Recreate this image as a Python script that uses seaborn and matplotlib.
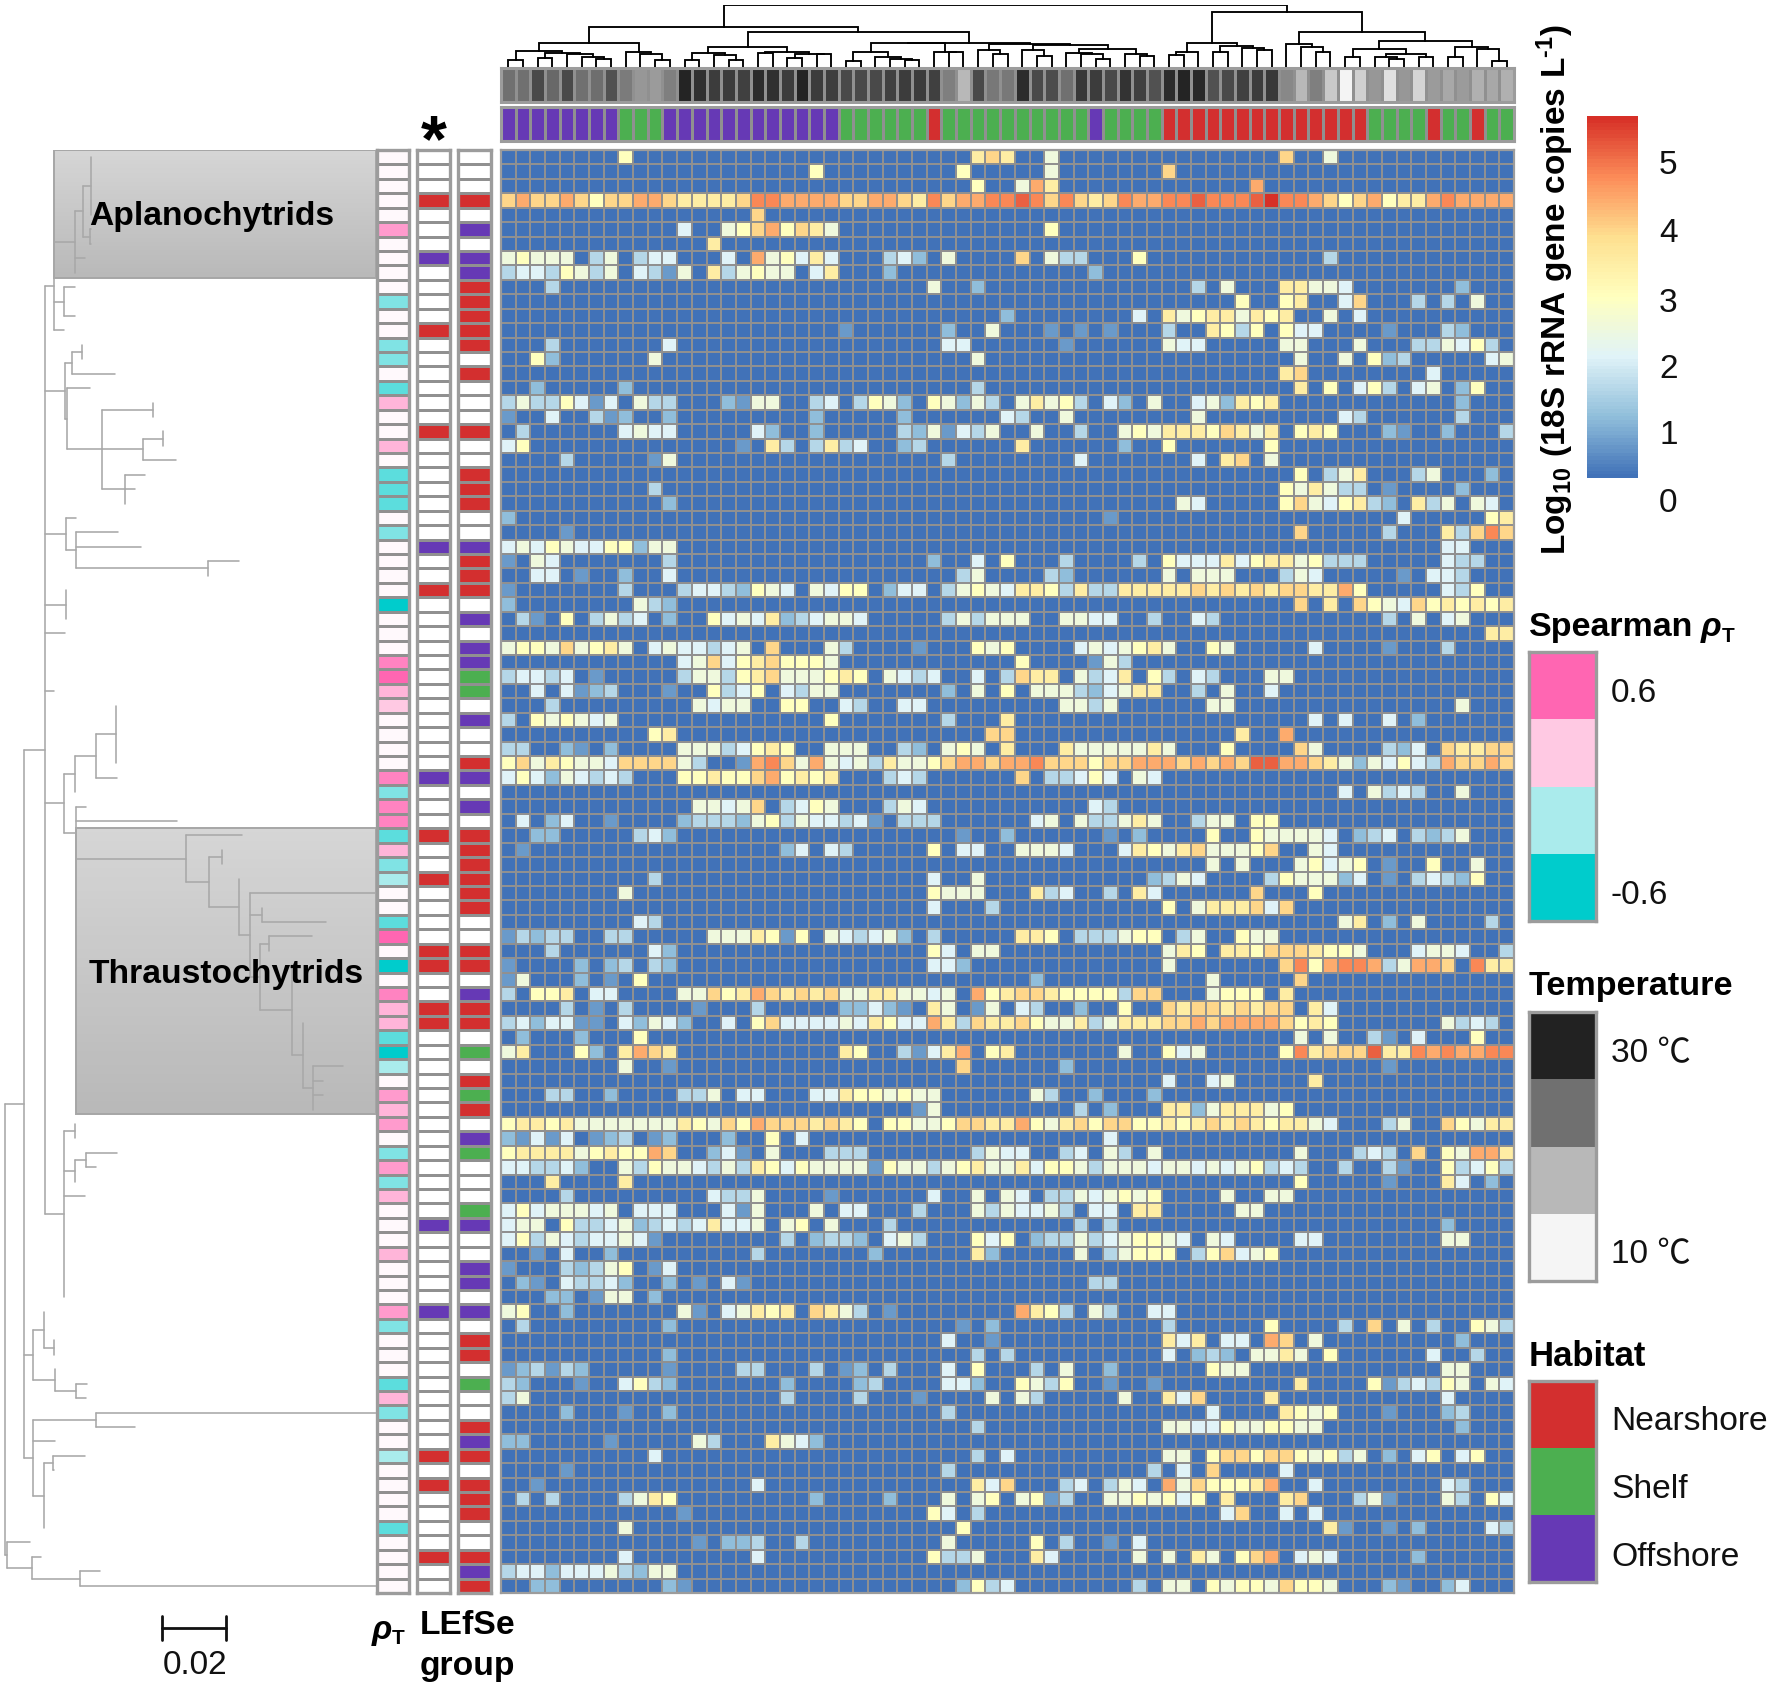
import numpy as np
import pandas as pd
import seaborn as sns
import matplotlib
matplotlib.use("Agg")
import matplotlib.pyplot as plt
from matplotlib.colors import LinearSegmentedColormap, ListedColormap
from matplotlib.patches import Rectangle

# ---------- abundance levels (one character per cell; missing trailing cells are 0) ----------
level_values = {'0': 0.0, '1': 0.5, '2': 0.95, '3': 1.4, '4': 1.9, '5': 2.35, '6': 2.85,
                '7': 3.4, '8': 3.9, '9': 4.4, 'a': 4.8, 'b': 5.2, 'c': 5.7}

rows_a = [
"00000 00060 00000 00000 00000 00000 00787 00500 00000 00000 00080 05000",
"00000 00000 00000 00000 06000 00000 06000 00500 00000 80000",
"00000 00000 00000 00000 00000 00000 00600 59700 00000 00000 09000",
"89889 86889 98777 78aa9 99988 9987a 899aa ba8a8 78a99 aabaa abcaa 98689 6779a 9999",
"00000 00000 00000 00800",
"00000 00000 00400 56896 87500 00000 00000 00600",
"00000 00000 00007",
"56555 03503 44000 40956 47400 03420 50000 80533 00060 00000 00000 03000",
"34436 53504 31507 35655 04700 02000 00000 00000 20000",
"00030 00000 00000 00000 00000 00005 00200 00000 00000 00305 00077 55400 00000 2000",
"00000 00000 00000 00000 00000 00000 00000 00000 00000 00000 60067 00480 00303 0500",
"00000 00000 00000 00000 00000 00000 00002 00000 00040 75677 57670 05040",
"00000 00000 00000 00000 00010 00000 20050 00101 01000 30076 36064 40000 10003 2000",
"00030 00000 04000 00000 00000 00000 44000 00010 00000 54400 00055 00050 00335 4630",
"00620 00000 50000 00000 00000 00000 00500 00000 00000 00000 00005 00506 23000 0045",
"00000 00000 00000 00000 00000 00000 00000 00000 00000 00000 00078 00000 00040",
"00200 00020 00000 00000 00000 00000 00300 00000 00000 00000 00007 06046 30450 2600",
"35336 41405 33000 21550 03403 65206 52530 57563 04205 00452 76700 00000 00000 2000",
"10040 03120 02000 00000 02000 00200 00004 30050 00000 00500 00000 00430 00000 3000",
"03000 00045 44000 00420 02000 00325 14350 05003 00565 77768 75706 76000 21002 0003",
"46000 00000 00000 01073 03734 00230 00000 70000 00200 60000 00600",
"00003 00000 15000 00000 00000 00000 30000 00004 00000 00407 80500",
"00000 00000 00000 00000 00000 00000 00000 00000 00000 00000 00006 03570 00350 0020",
"00000 00000 30000 00000 00000 00000 00000 00000 00000 00000 00065 75330 10000 2000",
"00000 00000 02000 00000 00000 00000 00000 00000 00000 05400 00068 54673 20735 0540",
]
rows_b = [
"20000 00000 00000 00000 00000 00000 00000 00000 01000 00000 00000 00000 04000 0067",
"00001 00000 00000 00000 00000 00000 00000 00000 00000 00000 00008 00000 30007 38a8",
"45465 44662 55000 00000 00000 00000 00000 00000 00000 00000 00000 00000 00004 4000",
"10540 00000 03000 00000 00000 00002 00406 00030 00030 64447 46775 63330 00004 3300",
"00440 10020 04000 00000 00000 00000 03500 00320 00000 50555 00035 40000 01044 3000",
"10000 00030 00344 32654 05466 02440 35654 77637 33777 77878 78788 77960 00004 3600",
"20000 00005 32000 00000 00000 00000 00000 00000 00000 00000 00008 07086 54867 6767",
"03106 03534 02006 45472 34554 00000 35355 50055 44003 00430 00000 00000 30504 5000",
"00000 00000 00000 00000 00000 00000 00000 00000 00000 00000 00000 00000 00000 0077",
"56658 56750 45443 45080 00530 00010 00656 00004 54567 50065 00000 40000 10003",
"00000 00000 00458 46786 66500 00000 00000 60000 15300",
"34434 01000 00355 36785 55676 05434 00403 87705 34706 30430 00550",
"00404 12300 01006 34604 35500 00000 20506 05553 24577 00305 00400",
"00030 00000 00054 55006 60043 00440 00000 00055 35000 00055 00000 00000 00000 5000",
"30656 54500 00000 00000 00600 00000 30007 00000 00000 00000 00000 40400 40200",
"00000 00000 67000 00000 00000 00000 00088 00000 00000 00000 70090",
"33002 10200 00555 34676 00555 00320 56507 00075 55557 50006 00008 50000 32408 7788",
"68576 55488 88530 019a8 59545 37556 89989 9a888 68899 98989 8bb99 87525 46439 8898",
"46425 43430 00667 66896 76700 03430 00000 80334 64054",
"00000 00000 00000 00000 00000 00000 00000 00000 00000 00000 00000 00405 34300 5000",
"00000 00000 00055 45803 46500 03540 00000 00000 43000",
"04024 00100 00233 32563 54434 10333 00000 04505 33575 00355 06600",
"00220 00003 42000 00000 00000 00000 01002 00000 01020 00060 06555 54023 40323 5000",
"01000 00000 00000 00002 40430 00006 04400 55540 00476 57855 56800 54000",
"00000 00000 00000 00000 00000 00000 00000 00000 00000 00050 50005 64560 10060 0500",
]
rows_c = [
"00000 00000 30000 00000 00000 00004 00500 00000 00002 35400 00365 55240 10343 2600",
"00000 00050 00000 00000 00000 00006 55500 07340 03074 00000 08000 60000",
"00000 00000 00000 00000 00000 00004 00030 00000 00000 60577 78480",
"00000 00004 30000 00000 00000 00000 00000 00000 00000 00000 00000 00570 20500 0030",
"13233 00330 00005 55761 60543 45203 00000 77603 33566 03500 65500",
"00030 00000 42000 00000 00000 00006 40550 00000 00000 57607 76888 76650 00455 4003",
"10000 20230 32000 00000 00000 00004 42000 00000 00000 50000 0008a 69aa9 35998 0a77",
"15000 20106 00000 00000 00000 00000 00000 02000 00000 00050 00008",
"30667 04400 00558 67987 87855 77554 50967 88766 66388 00056 66070",
"00003 01030 00010 00300 00022 42107 50150 43002 00600 87887 87880 74000",
"34244 11042 54200 40684 44454 76449 73877 86557 35777 88989 99986 76000 00005 3430",
"02000 20006 00000 00000 00000 00000 00000 00000 00000 00000 00005 05003 10400 0600",
"57000 62079 87000 00000 00076 00314 79067 00000 00500 64500 0006a 7888b 77a9a 99aa",
"00000 00050 01000 00000 00000 00000 08000 00020 00000 00000 00000 00000 10000",
"00000 00000 00000 00000 00000 00000 00000 00000 00000 40045 00000 70000",
"00033 00200 00335 04400 04476 65655 00000 05300 20002",
"00000 00000 00000 00000 00000 00015 00000 00003 02000 77257 77560",
"67767 55555 55765 86988 87876 06655 68877 96578 68866 76787 87677 54000 35008 6577",
"21414 01230 12000 20060 40000 00000 00000 00000 04000",
"67777 56766 98002 41050 00333 00000 00354 40034 05305 00000 00005 00034 30806 5997",
"44334 20053 65543 53764 65555 16553 56755 74665 35554 55454 56343 00300 31006 3463",
"00070 00070 00000 00000 00000 00000 00000 00000 00000 00000 00006 00000 10007 4020",
"00003 00000 00004 33500 00100 00004 00505 40335 45656 00005 00550",
"46455 54504 44000 41500 05044 00030 00535 44530 44077 00000 55000",
"45506 33452 34347 44505 60500 03000 00000 00003 03000 00000 00000 00000 00002",
]
rows_d = [
"46354 34454 10000 00003 02332 04530 00646 02335 34566 54054 00004 40000 00005 5000",
"00104 00200 00000 00300 00000 20000 00720 00005 03566 60368 45600",
"10003 23560 14000",
"02104 33420 02010 41000 00000 00000 00000 00000 33000",
"00022 01550 20000",
"56002 00000 00510 45767 08753 01000 00000 97630 53004 40000",
"03000 00000 02000 00000 00000 00000 01020 00000 00000 30000 00600 00308 05030 0653",
"00000 00000 00000 00000 00000 00000 40010 00000 00000 74704 40980 50000 00000 2000",
"00000 00000 02000 00000 00000 00000 00303 00000 00000 40232 05575 06000 00040 0300",
"12313 20000 01000 03300 03012 03000 40600 03050 02000 00065 50000 00000 00005 5000",
"32000 10046 32000 00002 00002 30000 44200 65360 01001 00000 00007 00006 13436 5054",
"35000 00000 00000 00003 00003 00010 00050 53000 00500 74800 00700 00000 00004",
"00002 00010 02000 00000 00000 00000 30000 00000 00000 00040 00076 56000 10002 3000",
"00000 00000 00000 00000 00000 00000 00300 00000 00000 55446 55665 50000 00000 2000",
"22000 00100 00053 00075 42000",
"00000 00000 40000 00000 00000 00000 00304 00000 00000 55068 86886 56350 20460 4600",
"00001 00000 00000 00000 00000 00000 30000 00000 00003 04080 00040",
"00100 00000 00000 00400 00000 00000 00748 00034 03540 95866 67900 40000 00004 3000",
"03030 00035 76000 00000 02000 02000 50560 56130 05565 64607 00078 00035 10005 3064",
"00000 00000 00100 00000 00000 00006 40300 00000 00000 00004 80040 40000",
"00000 00050 00000 00000 00000 00000 06000 00000 00000 00000 00000 07100 10200 0043",
"00000 00000 00010 22300 30000 00000 50000 06030 01040",
"00000 00040 00000 00400 00000 00006 33500 07400 00050 50750 68904 54000 00200",
"34424 44532 55000",
"00220 00000 02100 00000 00000 00000 02634 00000 00030 55065 66586 65000 21002 4000",
]

# ---------- column annotations ----------
temperature = [23.3, 23.3, 26.7, 24.0, 26.7, 23.3, 23.5, 26.0, 22.3, 19.7, 19.3, 21.9,
               29.8, 28.8, 27.8, 27.8, 27.4, 29.1, 28.8, 27.8, 29.8, 27.8, 27.6, 26.7,
               26.7, 26.7, 27.4, 27.8, 27.8, 27.4, 21.9, 16.7, 26.7, 22.6, 22.6, 29.1,
               26.7, 26.4, 23.3, 28.1, 27.8, 26.7, 28.5, 27.4, 26.0, 29.1, 29.8, 29.5,
               26.0, 26.7, 27.4, 27.8, 28.1, 21.1, 16.7, 21.9, 14.9, 10.1, 14.0, 19.7,
               12.3, 19.7, 13.6, 19.3, 18.2, 19.3, 17.4, 18.2, 17.4]
habitat = "PPPPPPPP GGG PPPPPPPPPPPP GGGGGG R GGGGGGGGGG P GGGG RRRRRRRRRRRRRR GGGG R GG R GG"

# ---------- row annotations ----------
rho_codes = (".....p.... d..dd.cq.. q.ccc.d... .C...oPqr. ...odoocqd "
             "e..cP.C.oq qcCe.pqp.d pdq...q... pd...cqd.. e....c....")
rho_values = {'.': 0.0, 'P': 0.6, 'o': 0.48, 'p': 0.38, 'q': 0.28, 'r': 0.2,
              'e': -0.2, 'd': -0.3, 'c': -0.38, 'C': -0.6}
lefse_group = ("...R...P.. ..R......R .......P.. R......... ...P...R.. "
               "R....RR..R R......... ....P..... P......... R.R....R..")
abundance_group = ("...R.P.PPR RRRR.R...R ..RRR..PRR R.P.PPGG.P ..RP.P.RRR "
                   "RRR..RR.PR R.G.RGR.PG ...GP..PP. P.RR.G..RP R.RRR..RPR")
group_index = {'.': 0, 'R': 1, 'G': 2, 'P': 3}

# ---------- trees ----------
L = 1
col_tree = (183,
  (120,
    (70,
      (47, (22, L, L), (42, (28, L, L), (38, L, (30, L, (24, L, L))))),
      (45, L, (40, L, (22, L, L)))),
    (105,
      (60,
        (42, (22, L, L), (35, L, (22, L, L))),
        (45, (42, L, L), (40, (28, L, L), (38, L, L)))),
      (70,
        (70,
          (45, (17, L, L), (30, L, (25, L, (20, L, L)))),
          (45, L, (45, L, L))),
        (68, (50, L, (38, L, L)),
          (66, (50, L, (32, L, L)),
            (52, (42, L, (38, L, (25, L, L))), (38, L, (32, L, L)))))))),
  (163,
    (70,
      (45, (35, L, L), L),
      (62, (45, L, L), (55, L, (50, L, L)))),
    (105,
      (68, L, (60, L, (45, L, L))),
      (78,
        (52, (30, L, L), (40, (30, L, (25, L, L)), (30, L, L))),
        (60, (30, L, L), (53, L, (17, L, L)))))))

aplano = (163, [(225, [(250, [(272, [272, 272, 272, 272, 272]), (270, [272, 272])]), 255, 225]),
                (193, [225, 193, 225]), 193])
clade_a = (195, [(215, [(245, [245, 245]), 345]),
                 (200, [270, (305, [(460, [460, 460]), (430, [(490, [490, 490]), 528]),
                                    (375, [435, 405, 375])])])])
clade_b = (197, [228, (228, [355, 423, (625, [717, 625])])])
clade_c = (197, [197, 197, 197])
thraust = (558, [727, (627, [(665, [665, 665]),
           (717, [717, (750, [1128, (785, [785, 978]),
            (780, [(808, [935, 808]),
                   (877, [877, 877, 877, 877,
                          (908, [908, 908, 908, (938, [1030, 968, 968, 938])])])])])])])])
clade_d = (192, [(225, [(287, [(347, [347, 347, 347, 347, 347]), 350]), 225]),
                 (228, [257, 532, thraust])])
clade_e = (192, [(225, [225, 225]), (225, [(257, [350, 287]), 225]), 255,
                 192, 192, 192, 192, 192, 192, 192])
node_1a = (135, [aplano, clade_a, clade_b, clade_c, 195, 135, 135, 135, 163, clade_d, clade_e])
node_1b = (100, [(133, [133, 133, (162, [162, 162])]), (165, [165, (228, [260, 258])])])
node_1c = (100, [(288, [1128, 405]), 165, (133, [(160, [255, 162]), 133, 133, 133, 133])])
row_tree = (16, [(72, [node_1a, node_1b, node_1c]), (22, [90, (95, [122, (240, [300, 1128])])])])
units_per_002 = 193   # tree units in one 0.02 of branch length

# ---------- legends ----------
cbar_ticks = ['5', '4', '3', '2', '1', '0']
rho_legend = [0.6, 0.2, -0.2, -0.6]
temp_legend = [30, 23.3, 16.7, 10]
habitat_labels = ['Nearshore', 'Shelf', 'Offshore']

# ---------- styling ----------
W, H = 1772, 1687
GRID = '#909090'
FRAME = '#9c9c9c'
sns.set_theme(style='white')
plt.rcParams['font.family'] = ['Liberation Sans', 'Noto Sans CJK SC', 'DejaVu Sans']
plt.rcParams['mathtext.fontset'] = 'custom'
plt.rcParams['mathtext.rm'] = 'Liberation Sans:bold'
plt.rcParams['mathtext.bf'] = 'Liberation Sans:bold'
plt.rcParams['mathtext.it'] = 'Liberation Sans:bold:italic'

heat_cmap = LinearSegmentedColormap.from_list(
    'heat', ['#4172b8', '#91bfdb', '#e0f3f8', '#ffffbf', '#fee090', '#fc8d59', '#d73027'], N=256)
rho_cmap = LinearSegmentedColormap.from_list('rho', ['#00cccc', '#fffafc', '#ff66b2'])
temp_cmap = LinearSegmentedColormap.from_list('temp', ['#f5f5f5', '#b8b8b8', '#707070', '#222222'])
group_cmap = ListedColormap(['#ffffff', '#d32f2f', '#4caf50', '#6639b5'])

fig = plt.figure(figsize=(W / 100, H / 100), dpi=100)


def px_axes(x0, y0, x1, y1):
    return fig.add_axes([x0 / W, 1 - y1 / H, (x1 - x0) / W, (y1 - y0) / H])


def text(x, y, s, **kw):
    kw.setdefault('color', '#111111')
    return fig.text(x / W, 1 - y / H, s, **kw)


def frame(ax, lw=2.0, color=FRAME):
    for sp in ax.spines.values():
        sp.set_visible(True)
        sp.set_linewidth(lw)
        sp.set_color(color)
    ax.set_xticks([])
    ax.set_yticks([])
    ax.set_xlabel('')
    ax.set_ylabel('')


def draw(data, box, cmap, vmin, vmax, lw=1.05, border=2.0):
    ax = px_axes(*box)
    sns.heatmap(pd.DataFrame(data), ax=ax, cmap=cmap, vmin=vmin, vmax=vmax, cbar=False,
                linewidths=lw, linecolor=GRID, xticklabels=False, yticklabels=False)
    frame(ax, border)
    return ax


# ---------- main heat map ----------
matrix = []
for row in rows_a + rows_b + rows_c + rows_d:
    cells = row.replace(' ', '').ljust(69, '0')[:69]
    matrix.append([level_values[c] for c in cells])
matrix = np.array(matrix)
HX0, HX1, HY0, HY1 = 501, 1514, 150, 1593
draw(matrix, (HX0, HY0, HX1, HY1), heat_cmap, 0, 5.7, lw=1.25, border=1.6)

# ---------- column strips ----------
draw(np.array(temperature)[None, :], (HX0, 68, HX1, 102), temp_cmap, 10, 30, lw=1.05, border=2.2)
hab = habitat.replace(' ', '')
draw(np.array([[group_index[c] for c in hab]]), (HX0, 107, HX1, 141), group_cmap, 0, 3, lw=1.05, border=2.2)

# ---------- row strips ----------
rho = np.array([[rho_values[c]] for c in rho_codes.replace(' ', '')])
lef = np.array([[group_index[c]] for c in lefse_group.replace(' ', '')])
grp = np.array([[group_index[c]] for c in abundance_group.replace(' ', '')])
draw(rho, (377, HY0, 409, HY1), rho_cmap, -0.6, 0.6, border=2.4)
draw(lef, (417, HY0, 450, HY1), group_cmap, 0, 3, border=2.4)
draw(grp, (458, HY0, 491, HY1), group_cmap, 0, 3, border=2.4)

# ---------- column dendrogram ----------
ax = px_axes(HX0, 5, HX1, 67)
ax.set_xlim(0, 69)
ax.set_ylim(0, 184)
ax.axis('off')
next_leaf = [0]


def draw_col(node):
    if node == L:
        next_leaf[0] += 1
        return next_leaf[0] - 0.5, 0
    h, a, b = node
    xa, ha = draw_col(a)
    xb, hb = draw_col(b)
    ax.plot([xa, xa, xb, xb], [ha, h, h, hb], color='black', lw=1.35, solid_capstyle='projecting',
            solid_joinstyle='miter')
    return (xa + xb) / 2, h


draw_col(col_tree)

# ---------- row tree with shaded clades ----------
tree_ax = px_axes(0, HY0, 376, HY1)
tree_ax.set_facecolor('none')
tree_ax.axis('off')
shade = LinearSegmentedColormap.from_list('shade', ['#d6d6d6', '#b9b9b9'])
for x0, r0, r1 in [(163, 0, 8.85), (228, 47, 66.8)]:
    tree_ax.imshow(np.linspace(0, 1, 64)[:, None], extent=(x0, 1128, r1, r0), aspect='auto',
                   cmap=shade, zorder=0)
    tree_ax.add_patch(Rectangle((x0, r0), 1128 - x0, r1 - r0, fill=False, ec='#a6a6a6', lw=1.4, zorder=1))
tree_ax.set_xlim(0, 1128)
tree_ax.set_ylim(100, 0)
next_row = [0]


def draw_row(node, parent):
    if not isinstance(node, tuple):
        y = next_row[0] + 0.5
        next_row[0] += 1
        tree_ax.plot([parent, node], [y, y], color='#a8a8a8', lw=1.15, zorder=2)
        return y
    depth, kids = node
    ys = [draw_row(k, depth) for k in kids]
    tree_ax.plot([depth, depth], [ys[0], ys[-1]], color='#a8a8a8', lw=1.15, zorder=2)
    y = (ys[0] + ys[-1]) / 2
    tree_ax.plot([parent, depth], [y, y], color='#a8a8a8', lw=1.15, zorder=2)
    return y


draw_row(row_tree, 14)

# scale bar
bar_x0 = 485
bar_y = (1628 - HY0) / (HY1 - HY0) * 100
bar_h = 0.8
tree_ax.plot([bar_x0, bar_x0 + units_per_002], [bar_y, bar_y], color='#111111', lw=2.0, clip_on=False)
for xb in (bar_x0, bar_x0 + units_per_002):
    tree_ax.plot([xb, xb], [bar_y - bar_h, bar_y + bar_h], color='#111111', lw=2.0, clip_on=False)

text(195, 1666, '0.02', fontsize=24, ha='center', va='center')
text(89, 217, 'Aplanochytrids', fontsize=24.2, fontweight='bold', va='center', color='black')
text(89, 975, 'Thraustochytrids', fontsize=24.2, fontweight='bold', va='center', color='black')

# ---------- labels under / above strips ----------
text(434, 161, '*', fontsize=48, fontweight='bold', ha='center', va='baseline', color='black')
text(372, 1639, 'ρ', fontsize=24, fontweight='bold', fontstyle='italic', va='baseline', color='black')
text(392, 1644, 'T', fontsize=15, fontweight='bold', va='baseline', color='black')
text(420, 1626, 'LEfSe', fontsize=24.2, fontweight='bold', va='center', color='black')
text(420, 1667, 'group', fontsize=24.2, fontweight='bold', va='center', color='black')

# ---------- colour bar ----------
cb = px_axes(1587, 116, 1638, 478)
sns.heatmap(pd.DataFrame(np.linspace(5.7, 0, 100)[:, None]), ax=cb, cmap=heat_cmap, vmin=0, vmax=5.7,
            cbar=False, xticklabels=False, yticklabels=False)
cb.set_xlabel('')
cb.set_ylabel('')
for lab, yy in zip(cbar_ticks, [166, 234, 303, 369, 436, 503]):
    text(1659, yy, lab, fontsize=24, va='center')
text(1555, 290, '$\\mathbf{Log_{10}\\ (18S\\ rRNA\\ gene\\ copies\\ L^{\u20101})}$', fontsize=24,
     rotation=90, ha='center', va='center', color='black')

# ---------- discrete legends ----------
text(1529, 636, 'Spearman', fontsize=24.5, fontweight='bold', va='baseline', color='black')
text(1701, 636, 'ρ', fontsize=24.5, fontweight='bold', fontstyle='italic', va='baseline', color='black')
text(1722, 642, 'T', fontsize=15, fontweight='bold', va='baseline', color='black')
draw(np.array(rho_legend)[:, None], (1529, 652, 1596, 921), rho_cmap, -0.6, 0.6, lw=0, border=2.4)
text(1611, 693, '0.6', fontsize=24, va='center')
text(1611, 895, '-0.6', fontsize=24, va='center')

text(1529, 987, 'Temperature', fontsize=24.6, fontweight='bold', va='center', color='black')
draw(np.array(temp_legend)[:, None], (1529, 1012, 1596, 1281), temp_cmap, 10, 30, lw=0, border=2.4)
text(1611, 1054, '30 ℃', fontsize=24, va='center')
text(1611, 1255, '10 ℃', fontsize=24, va='center')

text(1529, 1356, 'Habitat', fontsize=25, fontweight='bold', va='center', color='black')
draw(np.array([[1], [2], [3]]), (1529, 1381, 1596, 1582), group_cmap, 0, 3, lw=0, border=2.4)
for lab, yy in zip(habitat_labels, [1422, 1490, 1557]):
    text(1611, yy, lab, fontsize=24.2, va='center')

fig.savefig('out.png', dpi=100, facecolor='white')
